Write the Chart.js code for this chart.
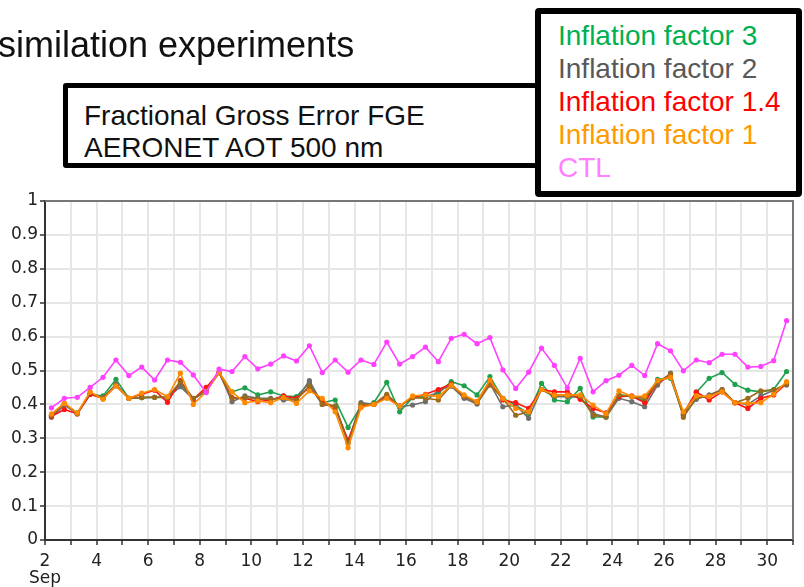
<!DOCTYPE html>
<html>
<head>
<meta charset="UTF-8">
<title>FGE AERONET AOT 500 nm</title>
<script src="https://cdn.jsdelivr.net/npm/chart.js"></script>
<style>
body{margin:0; width:804px; height:587px; overflow:hidden; background:#fff; position:relative; font-family:"Liberation Sans", Arial, sans-serif;}
#myChart{position:absolute; left:0; top:0;}
#title{position:absolute; left:-2px; top:25px; font-size:36px; line-height:40px; color:#111; white-space:nowrap;}
#infoBox{position:absolute; left:63px; top:83px; width:477px; height:85px; box-sizing:border-box; border:5px solid #000; border-radius:3px; background:#fff; padding:12px 0 0 16px; font-size:28px; line-height:32px; color:#111;}
#legendBox{position:absolute; left:535px; top:8px; width:267px; height:189px; box-sizing:border-box; border:6px solid #000; border-radius:4px; background:#fff; padding:5px 0 0 17px; font-size:28px; line-height:33px; white-space:nowrap;}
</style>
<script>
// x position of each point, in days of September (every 12 h)
var dayPos = [2.25,2.75,3.25,3.75,4.25,4.75,5.25,5.75,6.25,6.75,
	7.25,7.75,8.25,8.75,9.25,9.75,10.25,10.75,11.25,11.75,
	12.25,12.75,13.25,13.75,14.25,14.75,15.25,15.75,16.25,16.75,
	17.25,17.75,18.25,18.75,19.25,19.75,20.25,20.75,21.25,21.75,
	22.25,22.75,23.25,23.75,24.25,24.75,25.25,25.75,26.25,26.75,
	27.25,27.75,28.25,28.75,29.25,29.75,30.25,30.75];

var ctl = [0.390,0.418,0.421,0.450,0.480,0.531,0.485,0.510,0.472,0.531,
	0.524,0.487,0.435,0.504,0.497,0.541,0.505,0.519,0.543,0.528,
	0.573,0.494,0.531,0.495,0.531,0.518,0.584,0.519,0.541,0.569,
	0.526,0.595,0.607,0.579,0.597,0.502,0.447,0.495,0.566,0.515,
	0.449,0.536,0.437,0.470,0.486,0.515,0.485,0.579,0.558,0.499,
	0.531,0.523,0.548,0.548,0.510,0.512,0.529,0.647];

var infl3 = [0.368,0.400,0.375,0.430,0.425,0.474,0.418,0.420,0.421,0.420,
	0.460,0.415,0.440,0.494,0.437,0.449,0.428,0.437,0.425,0.423,
	0.464,0.405,0.413,0.332,0.395,0.405,0.465,0.378,0.420,0.423,
	0.433,0.467,0.455,0.428,0.482,0.418,0.398,0.373,0.462,0.413,
	0.408,0.447,0.363,0.363,0.428,0.423,0.410,0.474,0.477,0.370,
	0.435,0.477,0.494,0.459,0.442,0.437,0.444,0.497];

var infl2 = [0.362,0.398,0.373,0.430,0.420,0.460,0.418,0.420,0.421,0.421,
	0.452,0.415,0.440,0.494,0.408,0.425,0.418,0.418,0.413,0.413,
	0.470,0.400,0.395,0.290,0.405,0.400,0.425,0.393,0.398,0.408,
	0.442,0.454,0.418,0.401,0.462,0.393,0.398,0.359,0.444,0.423,
	0.423,0.421,0.373,0.363,0.418,0.408,0.393,0.457,0.492,0.368,
	0.415,0.428,0.444,0.405,0.400,0.425,0.442,0.457];

var infl14 = [0.365,0.385,0.372,0.430,0.418,0.455,0.418,0.430,0.442,0.406,
	0.470,0.415,0.450,0.494,0.420,0.418,0.408,0.413,0.425,0.418,
	0.450,0.410,0.390,0.294,0.393,0.400,0.420,0.395,0.420,0.430,
	0.444,0.460,0.423,0.408,0.470,0.413,0.405,0.388,0.444,0.437,
	0.437,0.415,0.388,0.375,0.423,0.425,0.405,0.465,0.484,0.373,
	0.437,0.413,0.437,0.405,0.388,0.418,0.428,0.462];

var infl1 = [0.372,0.403,0.375,0.437,0.415,0.455,0.418,0.433,0.444,0.423,
	0.492,0.400,0.437,0.494,0.437,0.405,0.410,0.405,0.420,0.403,
	0.440,0.418,0.378,0.272,0.391,0.400,0.418,0.395,0.425,0.428,
	0.423,0.457,0.428,0.408,0.472,0.418,0.388,0.378,0.444,0.428,
	0.428,0.428,0.398,0.373,0.440,0.423,0.425,0.470,0.480,0.378,
	0.425,0.423,0.437,0.405,0.403,0.405,0.430,0.467];

// extra brown line seen in the plot (no legend entry)
var brown = [0.368,0.403,0.373,0.435,0.418,0.455,0.418,0.420,0.421,0.421,
	0.467,0.418,0.440,0.494,0.418,0.420,0.415,0.415,0.420,0.413,
	0.455,0.400,0.395,0.285,0.400,0.400,0.430,0.395,0.420,0.418,
	0.413,0.455,0.423,0.405,0.457,0.418,0.368,0.378,0.444,0.425,
	0.425,0.425,0.368,0.363,0.428,0.423,0.418,0.465,0.490,0.362,
	0.420,0.425,0.444,0.405,0.418,0.440,0.442,0.460];

var yTicks = [0,0.1,0.2,0.3,0.4,0.5,0.6,0.7,0.8,0.9,1];

function pts(arr){
	return dayPos.map(function(x, i){ return {x: x, y: arr[i]}; });
}
function ds(label, arr, color){
	return {label: label, data: pts(arr), borderColor: color, backgroundColor: color,
		borderWidth: 1.6, pointRadius: 2.6, pointBorderWidth: 0, tension: 0};
}

window.onload = function(){
	var frame = {
		id: 'frame',
		beforeDatasetsDraw: function(chart){
			var a = chart.chartArea, c = chart.ctx;
			c.save();
			c.strokeStyle = '#777';
			c.lineWidth = 2;
			c.beginPath();
			c.moveTo(a.left, a.top); c.lineTo(a.right, a.top); c.lineTo(a.right, a.bottom);
			c.stroke();
			c.restore();
		}
	};
	new Chart(document.getElementById('myChart'), {
		type: 'line',
		data: {
			datasets: [
				ds('CTL', ctl, '#ff40ff'),
				ds('Inflation factor 1', infl1, '#ff8a00'),
				ds('', brown, '#9a6b1c'),
				ds('Inflation factor 1.4', infl14, '#ff1414'),
				ds('Inflation factor 2', infl2, '#6e6e6e'),
				ds('Inflation factor 3', infl3, '#1ea04c')
			]
		},
		options: {
			responsive: false,
			animation: false,
			devicePixelRatio: 1,
			layout: {padding: {top: 201, right: 11, left: 0, bottom: 0}},
			plugins: {legend: {display: false}, tooltip: {enabled: false}},
			scales: {
				x: {
					type: 'linear', min: 2, max: 31,
					afterFit: function(s){ s.height = 47; },
					border: {color: '#333', width: 2},
					grid: {color: '#e6e6e6', lineWidth: 2, tickColor: '#333', tickLength: 5, tickWidth: 1.5},
					ticks: {
						stepSize: 1, autoSkip: false, maxRotation: 0, padding: 9,
						color: '#222', font: {family: 'DejaVu Sans', size: 17, lineHeight: 0.95},
						callback: function(v){
							if (v % 2 !== 0 || v > 30) return '';
							return v === 2 ? ['2', 'Sep'] : String(v);
						}
					}
				},
				y: {
					min: 0, max: 1,
					afterFit: function(s){ s.width = 45; },
					afterBuildTicks: function(s){ s.ticks = yTicks.map(function(v){ return {value: v}; }); },
					border: {color: '#333', width: 2},
					grid: {color: '#e6e6e6', lineWidth: 2, tickColor: '#333', tickLength: 5, tickWidth: 1.5},
					ticks: {
						padding: 2, color: '#222', font: {family: 'DejaVu Sans', size: 17},
						callback: function(v){ return String(Number(v.toFixed(1))); }
					}
				}
			}
		},
		plugins: [frame]
	});
};
</script>
</head>
<body>
	<canvas id="myChart" width="804" height="587"></canvas>
	<div id="title">similation experiments</div>
	<div id="infoBox">Fractional Gross Error FGE<br>AERONET AOT 500 nm</div>
	<div id="legendBox">
		<div style="color:#00b050">Inflation factor 3</div>
		<div style="color:#595959">Inflation factor 2</div>
		<div style="color:#ff0000">Inflation factor 1.4</div>
		<div style="color:#ff9a00">Inflation factor 1</div>
		<div style="color:#ff80ff">CTL</div>
	</div>
</body>
</html>
